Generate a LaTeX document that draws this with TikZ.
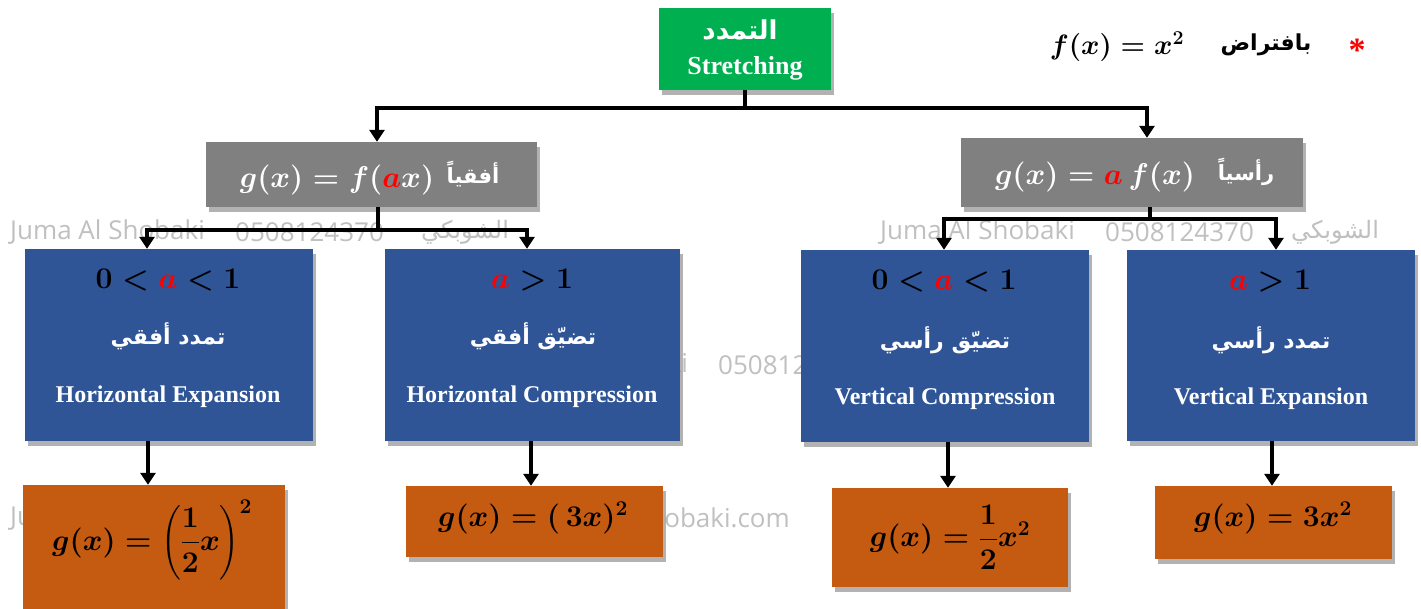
\RequirePackage{fix-cm}
\documentclass[tikz,border=0pt]{standalone}
\usepackage{amsmath}
\usepackage[no-math]{fontspec}
\usetikzlibrary{arrows.meta,shadows}
\setmainfont{Liberation Serif}
\newfontfamily\arb[Script=Arabic]{DejaVu Sans}
\newfontfamily\wmfont{Open Sans}
\TeXXeTstate=1
\definecolor{boxgreen}{RGB}{0,176,80}
\definecolor{boxgray}{RGB}{128,128,128}
\definecolor{boxblue}{RGB}{47,85,151}
\definecolor{boxorange}{RGB}{197,90,17}
\definecolor{wmgray}{RGB}{192,192,192}
\newcommand\fsz[1]{\fontsize{#1}{#1}\selectfont}
\newcommand\bmx[1]{{\boldmath$#1$}}
\newcommand\ra{{\color{red}a}}
\newcommand\ar[1]{{\arb\bfseries\beginR #1\endR}}
\begin{document}
\begin{tikzpicture}[x=1pt,y=-1pt,
  box/.style={rectangle,inner sep=0pt,draw=none,
    drop shadow={shadow xshift=3pt,shadow yshift=-5pt,fill=black,opacity=0.3}},
  gbox/.style={box,fill=boxgreen},
  graybox/.style={box,fill=boxgray},
  bbox/.style={box,fill=boxblue},
  obox/.style={box,fill=boxorange},
  txt/.style={inner sep=0pt,text=white,font=\bfseries},
  mtxt/.style={inner sep=0pt,text=black},
  wm/.style={inner sep=0pt,text=wmgray,anchor=west,font=\wmfont\fsz{26}},
  wmar/.style={inner sep=0pt,text=wmgray,anchor=west,font=\arb\fsz{24}},
  arr/.style={line width=4pt,-{Triangle[width=15pt,length=12pt]}},
  stem/.style={line width=4pt}]
\useasboundingbox (0,0) rectangle (1421,608);
\fill[white] (0,0) rectangle (1421,608);

% watermark lines behind the boxes
\node[wm] (w1a) at (10,232) {Juma Al Shobaki};
\node[wm] (w1b) at (235,232) {0508124370};
\node[wmar] (w1c) at (421,232) {\beginR الشوبكي\endR};
\node[wm] (w2a) at (880,232) {Juma Al Shobaki};
\node[wm] (w2b) at (1105,232) {0508124370};
\node[wmar] (w2c) at (1291,232) {\beginR الشوبكي\endR};
\node[wm] (w3a) at (493,365) {Juma Al Shobaki};
\node[wm] (w3b) at (718,365) {0508124370};
\node[wmar] (w3c) at (904,365) {\beginR الشوبكي\endR};
\node[wm] (w4a) at (10,518) {Juma Al Shobaki};
\node[wm,anchor=east] (w4b) at (790,518) {www.alshobaki.com};

% header
\node[gbox,minimum width=172,minimum height=82] (top) at (745,49) {};
\node[txt,font=\arb\bfseries\fsz{26}] (topar) at (740,30) {\beginR التمدد\endR};
\node[txt,font=\bfseries\fsz{26}] (topen) at (745,68) {Stretching};

\node[mtxt,font=\fsz{28}] (fdef) at (1117,47) {\bmx{f(x)=x^{2}}};
\node[mtxt,font=\arb\bfseries\fsz{22}] (fdefar) at (1266,45) {\beginR بافتراض\endR};
\node[mtxt,text=red,font=\bfseries\fsz{34}] (star) at (1357,50) {*};

% second level
\node[graybox,minimum width=331,minimum height=65] (gL) at (371.5,174.5) {};
\node[txt,font=\fsz{30}] (gLm) at (337,180) {\bmx{g(x)=f(\ra x)}};
\node[txt,font=\fsz{21}] (gLa) at (473,174) {\ar{أفقياً}};
\node[graybox,minimum width=342,minimum height=69] (gR) at (1132,172.5) {};
\node[txt,font=\fsz{30}] (gRm) at (1095,177) {\bmx{g(x)=\ra\,f(x)}};
\node[txt,font=\fsz{21}] (gRa) at (1246,172) {\ar{رأسياً}};

% third level
\node[bbox,minimum width=288,minimum height=192] (b1) at (169,345) {};
\node[bbox,minimum width=295,minimum height=192] (b2) at (532.5,345) {};
\node[bbox,minimum width=288,minimum height=192] (b3) at (945,346) {};
\node[bbox,minimum width=288,minimum height=191] (b4) at (1271,345.5) {};

\node[mtxt,font=\fsz{30}] (b1m) at (168,280) {\bmx{0<\ra<1}};
\node[txt,font=\fsz{22}] (b1a) at (168,336) {\ar{تمدد أفقي}};
\node[txt,font=\bfseries\fsz{24}] (b1e) at (168,397) {Horizontal Expansion};
\node[mtxt,font=\fsz{30}] (b2m) at (532,280) {\bmx{\ra>1}};
\node[txt,font=\fsz{22}] (b2a) at (533,336) {\ar{تضيّق أفقي}};
\node[txt,font=\bfseries\fsz{24}] (b2e) at (532,397) {Horizontal Compression};
\node[mtxt,font=\fsz{30}] (b3m) at (944,281) {\bmx{0<\ra<1}};
\node[txt,font=\fsz{22}] (b3a) at (945,340) {\ar{تضيّق رأسي}};
\node[txt,font=\bfseries\fsz{24}] (b3e) at (945,399) {Vertical Compression};
\node[mtxt,font=\fsz{30}] (b4m) at (1270,281) {\bmx{\ra>1}};
\node[txt,font=\fsz{22}] (b4a) at (1271,340) {\ar{تمدد رأسي}};
\node[txt,font=\bfseries\fsz{24}] (b4e) at (1271,399) {Vertical Expansion};

% results
\node[obox,minimum width=262,minimum height=135] (o1) at (154,552.5) {};
\node[mtxt,font=\fsz{30}] (o1m) at (152,540) {\bmx{g(x)=\left(\dfrac{1}{2}x\right)^{2}}};
\node[obox,minimum width=257,minimum height=71] (o2) at (534.5,521.5) {};
\node[mtxt,font=\fsz{30}] (o2m) at (533,518) {\bmx{g(x)=(\,3x)^{2}}};
\node[obox,minimum width=236,minimum height=99] (o3) at (950,537.5) {};
\node[mtxt,font=\fsz{30}] (o3m) at (950,537) {\bmx{g(x)=\dfrac{1}{2}x^{2}}};
\node[obox,minimum width=237,minimum height=73] (o4) at (1273.5,522.5) {};
\node[mtxt,font=\fsz{30}] (o4m) at (1273,518) {\bmx{g(x)=3x^{2}}};

% connectors
\coordinate (t1) at (745,108);
\draw[stem] (top.south) -- (t1);
\draw[arr] (t1) -| ([xshift=5.5]gL.north);
\draw[arr] (t1) -| ([xshift=15]gR.north);

\coordinate (l1) at (378,230);
\draw[stem] ([xshift=6.5]gL.south) -- (l1);
\draw[arr] (l1) -| ([xshift=-22]b1.north);
\draw[arr] (l1) -| ([xshift=-5.5]b2.north);

\coordinate (r1) at (1150,219);
\draw[stem] ([xshift=18]gR.south) -- (r1);
\draw[arr] (r1) -| ([xshift=-1]b3.north);
\draw[arr] (r1) -| ([xshift=5]b4.north);

\draw[arr] ([xshift=-21]b1.south) -- ([xshift=-21]b1.south |- o1.north);
\draw[arr] ([xshift=-1.5]b2.south) -- ([xshift=-1.5]b2.south |- o2.north);
\draw[arr] ([xshift=3]b3.south) -- ([xshift=3]b3.south |- o3.north);
\draw[arr] ([xshift=1]b4.south) -- ([xshift=1]b4.south |- o4.north);
\end{tikzpicture}
\end{document}
